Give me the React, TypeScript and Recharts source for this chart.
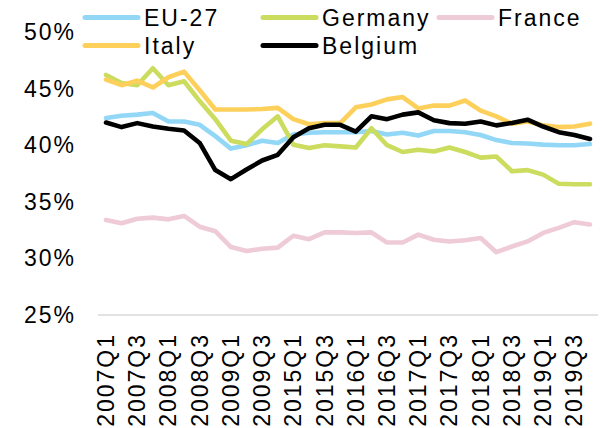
import React from 'react';
import { LineChart, Line, XAxis, YAxis } from 'recharts';

const categories = [
  '2007Q1', '2007Q2', '2007Q3', '2007Q4',
  '2008Q1', '2008Q2', '2008Q3', '2008Q4',
  '2009Q1', '2009Q2', '2009Q3', '2009Q4',
  '2015Q1', '2015Q2', '2015Q3', '2015Q4',
  '2016Q1', '2016Q2', '2016Q3', '2016Q4',
  '2017Q1', '2017Q2', '2017Q3', '2017Q4',
  '2018Q1', '2018Q2', '2018Q3', '2018Q4',
  '2019Q1', '2019Q2', '2019Q3', '2019Q4',
];

const eu27 = [42.4, 42.6, 42.7, 42.85, 42.1, 42.1, 41.8, 40.8, 39.7, 40.0, 40.4, 40.2, 40.95, 41.1, 41.15, 41.15, 41.15, 41.25, 40.95, 41.1, 40.85, 41.25, 41.25, 41.15, 40.9, 40.45, 40.2, 40.15, 40.05, 40.0, 40.0, 40.1];
const germany = [46.2, 45.5, 45.3, 46.8, 45.3, 45.65, 43.9, 42.3, 40.4, 40.1, 41.4, 42.55, 40.05, 39.75, 40.0, 39.9, 39.8, 41.5, 40.0, 39.4, 39.6, 39.45, 39.8, 39.4, 38.9, 39.0, 37.7, 37.8, 37.4, 36.6, 36.55, 36.55];
const france = [33.4, 33.1, 33.5, 33.6, 33.45, 33.75, 32.8, 32.4, 31.0, 30.65, 30.85, 30.95, 32.0, 31.7, 32.3, 32.3, 32.25, 32.3, 31.4, 31.4, 32.1, 31.65, 31.5, 31.6, 31.8, 30.55, 31.05, 31.5, 32.25, 32.7, 33.2, 33.0];
const italy = [45.8, 45.3, 45.7, 45.1, 46.0, 46.5, 44.85, 43.15, 43.15, 43.15, 43.2, 43.3, 42.3, 41.85, 41.95, 41.95, 43.35, 43.6, 44.05, 44.25, 43.25, 43.5, 43.5, 43.95, 43.05, 42.55, 41.9, 42.1, 41.75, 41.6, 41.65, 41.9];
const belgium = [42.0, 41.6, 41.95, 41.65, 41.45, 41.3, 40.2, 37.8, 37.0, 37.85, 38.65, 39.15, 40.7, 41.5, 41.8, 41.8, 41.2, 42.55, 42.3, 42.7, 42.9, 42.2, 41.95, 41.9, 42.1, 41.75, 41.97, 42.25, 41.65, 41.15, 40.9, 40.55];

const yTicks = [25, 30, 35, 40, 45, 50];

const series = [
  { key: 'eu27', name: 'EU-27', color: '#93d7f7', values: eu27 },
  { key: 'germany', name: 'Germany', color: '#cbdc5e', values: germany },
  { key: 'france', name: 'France', color: '#eecbd6', values: france },
  { key: 'italy', name: 'Italy', color: '#fdd05c', values: italy },
  { key: 'belgium', name: 'Belgium', color: '#000000', values: belgium },
];

const data = categories.map((cat, i) => {
  const row: Record<string, string | number> = { cat };
  series.forEach((s) => {
    row[s.key] = s.values[i];
  });
  return row;
});

const FONT = '"Liberation Sans", Arial, sans-serif';
const FONT_SIZE = 23;
const LS = 2;

const XTick = (props: any) => {
  const { x, y, payload } = props;
  return (
    <text
      x={x}
      y={y}
      transform={`rotate(-90 ${x} ${y})`}
      textAnchor="end"
      dominantBaseline="central"
      fontFamily={FONT}
      fontSize={FONT_SIZE}
      letterSpacing={LS}
      fill="#000"
    >
      {payload.value}
    </text>
  );
};

const YTick = (props: any) => {
  const { x, y, payload } = props;
  return (
    <text
      x={x}
      y={y}
      textAnchor="end"
      dominantBaseline="central"
      fontFamily={FONT}
      fontSize={FONT_SIZE}
      letterSpacing={LS}
      fill="#000"
    >
      {`${payload.value}%`}
    </text>
  );
};

const legendPos = [
  { lx: 85, ly: 17.5 },
  { lx: 263, ly: 17.5 },
  { lx: 439, ly: 17.5 },
  { lx: 85, ly: 45.5 },
  { lx: 263, ly: 45.5 },
];

export default function App() {
  return (
    <div style={{ position: 'absolute', left: 0, top: 0, width: 602, height: 428, background: '#fff' }}>
      <LineChart
        width={602}
        height={428}
        data={data}
        margin={{ top: 32, right: 4, bottom: 0, left: 0 }}
      >
        <XAxis
          dataKey="cat"
          interval={1}
          height={113}
          tickLine={false}
          tickSize={0}
          tickMargin={18}
          axisLine={{ stroke: '#d9d9d9', strokeWidth: 1.5 }}
          padding={{ left: 8, right: 8 }}
          tick={<XTick />}
        />
        <YAxis
          type="number"
          domain={[25, 50]}
          ticks={yTicks}
          width={98}
          axisLine={false}
          tickLine={false}
          tickSize={0}
          tickMargin={22}
          tick={<YTick />}
        />
        {series.map((s) => (
          <Line
            key={s.key}
            dataKey={s.key}
            name={s.name}
            stroke={s.color}
            strokeWidth={4.6}
            strokeLinejoin="round"
            strokeLinecap="round"
            dot={false}
            activeDot={false}
            isAnimationActive={false}
          />
        ))}
      </LineChart>
      <svg
        width={602}
        height={60}
        style={{ position: 'absolute', left: 0, top: 0, pointerEvents: 'none' }}
      >
        {series.map((s, i) => {
          const p = legendPos[i];
          return (
            <g key={s.key}>
              <line
                x1={p.lx}
                x2={p.lx + 53}
                y1={p.ly}
                y2={p.ly}
                stroke={s.color}
                strokeWidth={5}
                strokeLinecap="round"
              />
              <text
                x={p.lx + 59}
                y={p.ly}
                dominantBaseline="central"
                fontFamily={FONT}
                fontSize={FONT_SIZE}
                letterSpacing={LS}
                fill="#000"
              >
                {s.name}
              </text>
            </g>
          );
        })}
      </svg>
    </div>
  );
}
